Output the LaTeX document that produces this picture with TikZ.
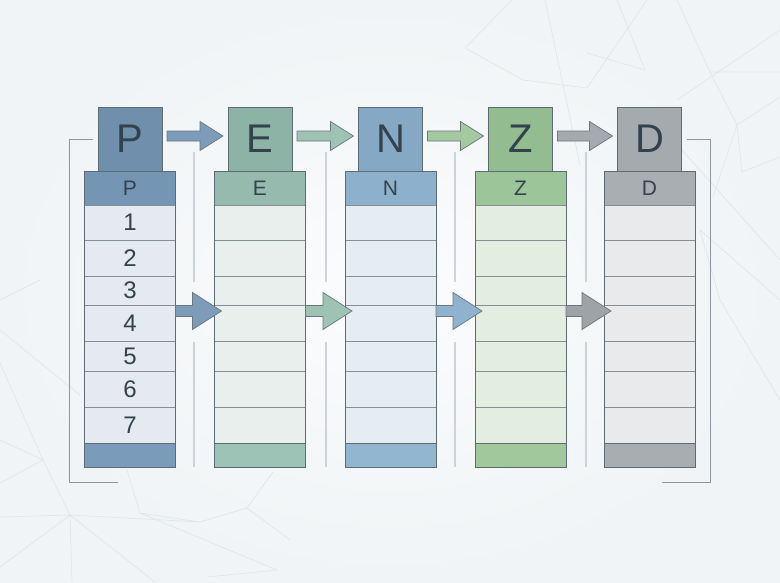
\documentclass[tikz,border=0pt]{standalone}
\usepackage{fontspec}
\setmainfont{Liberation Sans}
\usetikzlibrary{calc}
\definecolor{bgin}{HTML}{FBFCFD}
\definecolor{bgout}{HTML}{F0F4F6}
\definecolor{bgline}{HTML}{E0E6EA}
\definecolor{edgec}{HTML}{5E6B73}
\definecolor{rowline}{HTML}{858F96}
\definecolor{txtc}{HTML}{34424E}
\definecolor{vlinec}{HTML}{CDD3D8}
\definecolor{brackc}{HTML}{8E979D}
% column colours
\definecolor{pTop}{HTML}{6F8FAD}\definecolor{pHdr}{HTML}{7595B4}\definecolor{pRow}{HTML}{E4EAEF}\definecolor{pBot}{HTML}{7B9BBA}
\definecolor{eTop}{HTML}{8DB3A6}\definecolor{eHdr}{HTML}{96BBAE}\definecolor{eRow}{HTML}{E8EFED}\definecolor{eBot}{HTML}{9DC2B6}
\definecolor{nTop}{HTML}{85A9C5}\definecolor{nHdr}{HTML}{8DB1CC}\definecolor{nRow}{HTML}{E6EDF2}\definecolor{nBot}{HTML}{92B5D0}
\definecolor{zTop}{HTML}{93BD90}\definecolor{zHdr}{HTML}{9CC599}\definecolor{zRow}{HTML}{E3EEE1}\definecolor{zBot}{HTML}{A0C89C}
\definecolor{dTop}{HTML}{A5AAAF}\definecolor{dHdr}{HTML}{A9AEB3}\definecolor{dRow}{HTML}{E9EAEC}\definecolor{dBot}{HTML}{A8ADB1}
% arrow colours
\definecolor{aBlue}{HTML}{7C9CBA}\definecolor{aTeal}{HTML}{9EC3B5}\definecolor{aGreen}{HTML}{A4C8A0}
\definecolor{aGray}{HTML}{A5AAAE}\definecolor{aNblue}{HTML}{8FB3CF}\definecolor{aGray2}{HTML}{9EA3A7}
\definecolor{aEdge}{HTML}{6A7780}

\tikzset{
  topbox/.style={draw=edgec, line width=0.9pt, minimum width=64, minimum height=64,
    inner sep=0pt, outer sep=0pt, text=txtc, font=\fontsize{40}{40}\selectfont},
  hdrbox/.style={draw=edgec, line width=0.9pt, minimum width=91, minimum height=34,
    inner sep=0pt, outer sep=0pt, text=txtc, font=\fontsize{21}{21}\selectfont},
  rowbox/.style={draw=rowline, line width=0.8pt, minimum width=91,
    inner sep=0pt, outer sep=0pt, text=txtc, font=\fontsize{24}{24}\selectfont},
  botbox/.style={draw=edgec, line width=0.9pt, minimum width=91, minimum height=24,
    inner sep=0pt, outer sep=0pt},
  fatarrow/.style={draw=aEdge, line width=0.7pt, line join=miter},
  vline/.style={draw=vlinec, line width=1.1pt},
  bracket/.style={draw=brackc, line width=0.9pt},
  bgnet/.style={draw=bgline, line width=0.7pt}
}

% #1 name, #2 centre x, #3 top, #4 header, #5 rows, #6 bottom, #7 letter, #8 numbers 1/0
\newcommand\mkcolumn[8]{%
  \node[topbox, fill=#3] (#1-top) at (#2,139) {#7};
  \node[hdrbox, fill=#4] (#1-hdr) at (#2,188) {#7};
  \foreach \i/\ya/\yb in {1/205/240,2/240/276,3/276/305,4/305/341,5/341/371,6/371/407,7/407/443}{%
    \pgfmathsetmacro\yc{(\ya+\yb)/2}%
    \pgfmathsetmacro\hh{\yb-\ya}%
    \node[rowbox, fill=#5, minimum height=\hh] (#1-r\i) at (#2,\yc) {\ifnum#8=1 \i\fi};
  }
  \node[botbox, fill=#6] (#1-bot) at (#2,455) {};
  \draw[edgec, line width=0.9pt] (#1-hdr.north west) rectangle (#1-bot.south east);
}

% top arrow between top boxes
\newcommand\toparrow[3]{%
  \path let \p1=($(#1-top.east)+(5,-3)$), \p2=($(#2-top.west)+(-5,-3)$) in
    [fatarrow, fill=#3]
    (\x1,\y1+5pt) -- (\x2-23pt,\y1+5pt) -- (\x2-23pt,\y1+14.5pt) -- (\x2,\y1)
    -- (\x2-23pt,\y1-14.5pt) -- (\x2-23pt,\y1-5pt) -- (\x1,\y1-5pt) -- cycle;
}
% middle arrow between row 4 of two columns
\newcommand\midarrow[3]{%
  \path let \p1=($(#1-r4.north east)+(0,6)$), \p2=($(#2-r4.north west)+(7,6)$) in
    [fatarrow, fill=#3]
    (\x1,\y1+5.5pt) -- (\x2-29pt,\y1+5.5pt) -- (\x2-29pt,\y1+18.5pt) -- (\x2,\y1)
    -- (\x2-29pt,\y1-18.5pt) -- (\x2-29pt,\y1-5.5pt) -- (\x1,\y1-5.5pt) -- cycle;
}

\begin{document}
\begin{tikzpicture}[x=1pt,y=-1pt]
\useasboundingbox (0,0) rectangle (780,582);
\shade[inner color=bgin, outer color=bgout, shading=radial] (0,0) rectangle (780,582);

% faint background network
\draw[bgnet] (465,48)--(512,0) (465,48)--(523,80)--(587,88)--(647,0)
  (545,0)--(580,165) (587,53)--(645,70)--(617,0) (677,0)--(710,72)--(780,72)
  (677,100)--(780,30) (710,72)--(737,125)--(780,97) (737,125)--(713,197)
  (742,172)--(780,157) (673,140)--(780,260) (737,125)--(742,172)
  (700,230)--(780,300) (720,300)--(780,400) (700,230)--(720,300);
\draw[bgnet] (0,363)--(43,460)--(70,515)--(155,582) (0,440)--(43,460)--(0,483)
  (70,515)--(0,517) (70,515)--(72,582) (70,515)--(0,567)
  (127,470)--(140,513)--(200,522)--(247,508)--(273,472)
  (140,513)--(277,570)--(207,577) (200,522)--(70,515) (247,508)--(290,540)
  (0,330)--(80,395) (0,300)--(40,280);

% thin vertical guide lines
\foreach \vx in {194,326,455,586}{
  \draw[vline] (\vx,152)--(\vx,282);
  \draw[vline] (\vx,342)--(\vx,467);
}

% brackets
\draw[bracket] (93,139)--(69,139)--(69,482)--(118,482);
\draw[bracket] (687,139)--(710,139)--(710,482)--(662,482);

% columns
\mkcolumn{p}{130}{pTop}{pHdr}{pRow}{pBot}{P}{1}
\mkcolumn{e}{260}{eTop}{eHdr}{eRow}{eBot}{E}{0}
\mkcolumn{n}{390.5}{nTop}{nHdr}{nRow}{nBot}{N}{0}
\mkcolumn{z}{520.5}{zTop}{zHdr}{zRow}{zBot}{Z}{0}
\mkcolumn{d}{649.5}{dTop}{dHdr}{dRow}{dBot}{D}{0}

% arrows
\toparrow{p}{e}{aBlue}
\toparrow{e}{n}{aTeal}
\toparrow{n}{z}{aGreen}
\toparrow{z}{d}{aGray}
\midarrow{p}{e}{aBlue}
\midarrow{e}{n}{aTeal}
\midarrow{n}{z}{aNblue}
\midarrow{z}{d}{aGray2}
\end{tikzpicture}
\end{document}
